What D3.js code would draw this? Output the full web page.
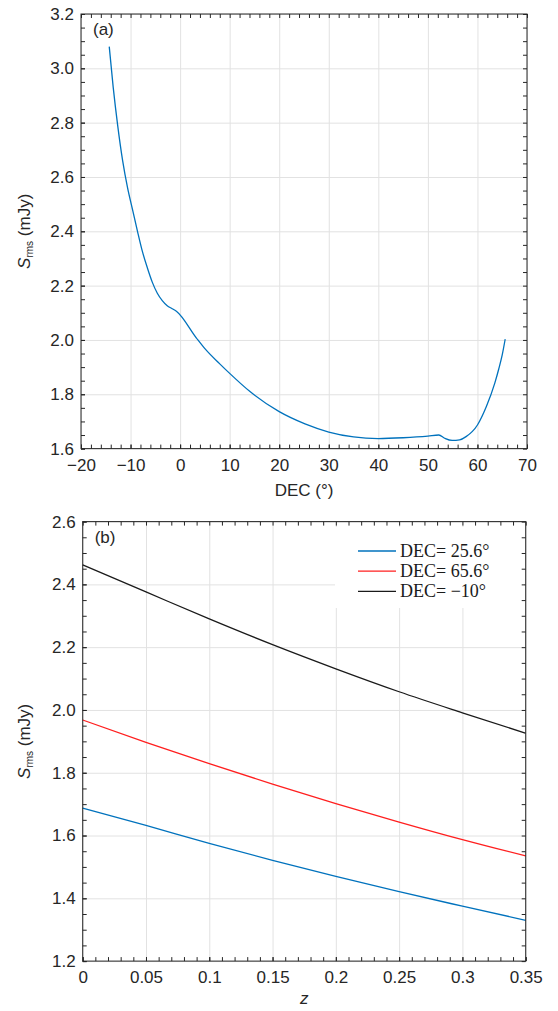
<!DOCTYPE html>
<html>
<head>
<meta charset="utf-8">
<script src="https://cdn.jsdelivr.net/npm/d3@7"></script>
<style>
  body { margin: 0; background: #fff; }
  svg { display: block; font-family: "Liberation Sans", Arial, Helvetica, sans-serif; }
  .axis path { stroke: none; }
  .axis line { stroke: #262626; }
  .axis text { fill: #262626; font-size: 17px; font-family: "Liberation Sans", Arial, sans-serif; }
  .grid line { stroke: #e2e2e2; }
  .grid path { stroke: none; }
</style>
</head>
<body>
<div id="container"></div>
<script>
// panel (a): S_rms versus declination
const decA = [-14.3, -13.5, -12.6, -11.6, -10.6, -9.6, -8.6, -7.6, -6.6, -5.6, -4.6, -3.6,
  -2.6, -1.6, -0.7, 3.3, 5, 8.0, 10, 14.1, 20, 25.2, 30, 35, 40, 45, 50, 52.2, 53.4,
  54.9, 56.4, 57.7, 60, 61.8, 63.5, 64.3, 65.0, 65.6]
const srmsA = [3.08, 2.93, 2.79, 2.66, 2.56, 2.48, 2.40, 2.325, 2.265, 2.212, 2.172, 2.145,
  2.126, 2.115, 2.105, 2.007, 1.968, 1.912, 1.877, 1.81, 1.736, 1.691, 1.661, 1.643, 1.637,
  1.640, 1.646, 1.650, 1.638, 1.630, 1.632, 1.644, 1.687, 1.755, 1.841, 1.893, 1.945, 2.003]

// panel (b): S_rms versus redshift for three declinations
const zB = [0, 0.05, 0.1, 0.15, 0.2, 0.25, 0.3, 0.35]
const srmsDec256 = [1.687, 1.632, 1.575, 1.521, 1.470, 1.421, 1.375, 1.330]
const srmsDec656 = [1.968, 1.897, 1.829, 1.764, 1.702, 1.643, 1.587, 1.535]
const srmsDecM10 = [2.462, 2.376, 2.290, 2.208, 2.131, 2.058, 1.991, 1.926]
const legendB = ["DEC= 25.6\u00b0", "DEC= 65.6\u00b0", "DEC= \u221210\u00b0"]
const colorsB = ["#0072bd", "#ff1f1f", "#1a1a1a"]

// ticks
const decTicks = d3.range(-20, 71, 10)
const decMinor = d3.range(-20, 70.1, 2)
const srmsTicksA = d3.range(1.6, 3.21, 0.2)
const srmsMinorA = d3.range(1.6, 3.201, 0.05)
const zTicks = d3.range(0, 0.3501, 0.05)
const zMinor = d3.range(0, 0.3501, 0.01)
const srmsTicksB = d3.range(1.2, 2.601, 0.2)
const srmsMinorB = d3.range(1.2, 2.601, 0.05)

const W = 558, H = 1011
const svg = d3.select("#container").append("svg")
  .attr("width", W).attr("height", H)

function panel(o) {
  const x = d3.scaleLinear().domain(o.xDomain).range([o.left, o.right])
  const y = d3.scaleLinear().domain(o.yDomain).range([o.bottom, o.top])
  const w = o.right - o.left, h = o.bottom - o.top
  const g = svg.append("g")

  // grid
  g.append("g").attr("class", "grid")
    .attr("transform", `translate(0,${o.bottom})`)
    .call(d3.axisBottom(x).tickValues(o.xTicks).tickSize(-h).tickFormat(""))
  g.append("g").attr("class", "grid")
    .attr("transform", `translate(${o.left},0)`)
    .call(d3.axisLeft(y).tickValues(o.yTicks).tickSize(-w).tickFormat(""))

  const data = g.append("g")
  const over = g.append("g")

  // axes, ticks pointing inwards on all four sides
  const ax = over.append("g")
  ax.append("g").attr("class", "axis")
    .attr("transform", `translate(0,${o.bottom})`)
    .call(d3.axisBottom(x).tickValues(o.xTicks).tickSize(-4).tickPadding(10).tickFormat(o.xFmt))
  ax.append("g").attr("class", "axis")
    .attr("transform", `translate(0,${o.bottom})`)
    .call(d3.axisBottom(x).tickValues(o.xMinor).tickSize(-4).tickFormat(""))
  ax.append("g").attr("class", "axis")
    .attr("transform", `translate(0,${o.top})`)
    .call(d3.axisTop(x).tickValues(o.xMinor).tickSize(-4).tickFormat(""))
  ax.append("g").attr("class", "axis")
    .attr("transform", `translate(${o.left},0)`)
    .call(d3.axisLeft(y).tickValues(o.yTicks).tickSize(-4).tickPadding(7).tickFormat(d3.format(".1f")))
  ax.append("g").attr("class", "axis")
    .attr("transform", `translate(${o.left},0)`)
    .call(d3.axisLeft(y).tickValues(o.yMinor).tickSize(-4).tickFormat(""))
  ax.append("g").attr("class", "axis")
    .attr("transform", `translate(${o.right},0)`)
    .call(d3.axisRight(y).tickValues(o.yMinor).tickSize(-4).tickFormat(""))

  ax.append("rect")
    .attr("x", o.left).attr("y", o.top)
    .attr("width", w).attr("height", h)
    .attr("fill", "none").attr("stroke", "#262626").attr("stroke-width", 1)

  // y label
  const yl = ax.append("text")
    .attr("transform", `translate(30,${(o.top + o.bottom) / 2}) rotate(-90)`)
    .attr("text-anchor", "middle")
    .attr("fill", "#262626")
    .style("font-size", "17px")
  yl.append("tspan").style("font-style", "italic").text("S")
  yl.append("tspan").style("font-size", "10px").attr("dy", 3).text("rms")
  yl.append("tspan").attr("dy", -3).text(" (mJy)")

  // x label
  const xl = ax.append("text")
    .attr("x", (o.left + o.right) / 2).attr("y", o.xLabelY)
    .attr("text-anchor", "middle")
    .attr("fill", "#262626")
    .style("font-size", "17px")
    .text(o.xLabel)
  if (o.xItalic) xl.style("font-style", "italic")

  // panel tag
  ax.append("text")
    .attr("x", o.left + 12).attr("y", o.top + 21)
    .attr("fill", "#262626")
    .style("font-size", "17px")
    .text(o.tag)

  return { x, y, data, over }
}

// ---- panel (a)
const pa = panel({
  left: 81, right: 527, top: 14, bottom: 448.6,
  xDomain: [-20, 70], yDomain: [1.6, 3.2],
  xTicks: decTicks, xMinor: decMinor, yTicks: srmsTicksA, yMinor: srmsMinorA,
  xFmt: d3.format("d"), xLabel: "DEC (\u00b0)", xLabelY: 496, tag: "(a)"
})

const ptsA = decA.map((d, i) => [d, srmsA[i]])
pa.data.append("path")
  .datum(ptsA)
  .attr("fill", "none")
  .attr("stroke", "#0072bd")
  .attr("stroke-width", 1.3)
  .attr("d", d3.line()
    .x(d => pa.x(d[0]))
    .y(d => pa.y(d[1]))
    .curve(d3.curveMonotoneX))

// ---- panel (b)
const pb = panel({
  left: 82.7, right: 525.7, top: 521.6, bottom: 961.1,
  xDomain: [0, 0.35], yDomain: [1.2, 2.6],
  xTicks: zTicks, xMinor: zMinor, yTicks: srmsTicksB, yMinor: srmsMinorB,
  xFmt: d3.format(".2~f"), xLabel: "z", xItalic: true, xLabelY: 1004, tag: "(b)"
})

const seriesB = [srmsDec256, srmsDec656, srmsDecM10]
seriesB.forEach((vals, k) => {
  pb.data.append("path")
    .datum(zB.map((z, i) => [z, vals[i]]))
    .attr("fill", "none")
    .attr("stroke", colorsB[k])
    .attr("stroke-width", 1.3)
    .attr("d", d3.line()
      .x(d => pb.x(d[0]))
      .y(d => pb.y(d[1]))
      .curve(d3.curveMonotoneX))
})

// legend, white background without a border
const leg = pb.data.append("g")
leg.append("rect")
  .attr("x", 335).attr("y", 527).attr("width", 189).attr("height", 81)
  .attr("fill", "#fff")
legendB.forEach((lab, k) => {
  const yy = 551 + k * 20.2
  leg.append("line")
    .attr("x1", 358).attr("x2", 396).attr("y1", yy).attr("y2", yy)
    .attr("stroke", colorsB[k]).attr("stroke-width", 1.3)
  leg.append("text")
    .attr("x", 400).attr("y", yy + 6)
    .attr("fill", "#1a1a1a")
    .style("font-family", "'Liberation Serif', 'DejaVu Serif', serif")
    .style("font-size", "18px")
    .text(lab)
})
</script>
</body>
</html>
